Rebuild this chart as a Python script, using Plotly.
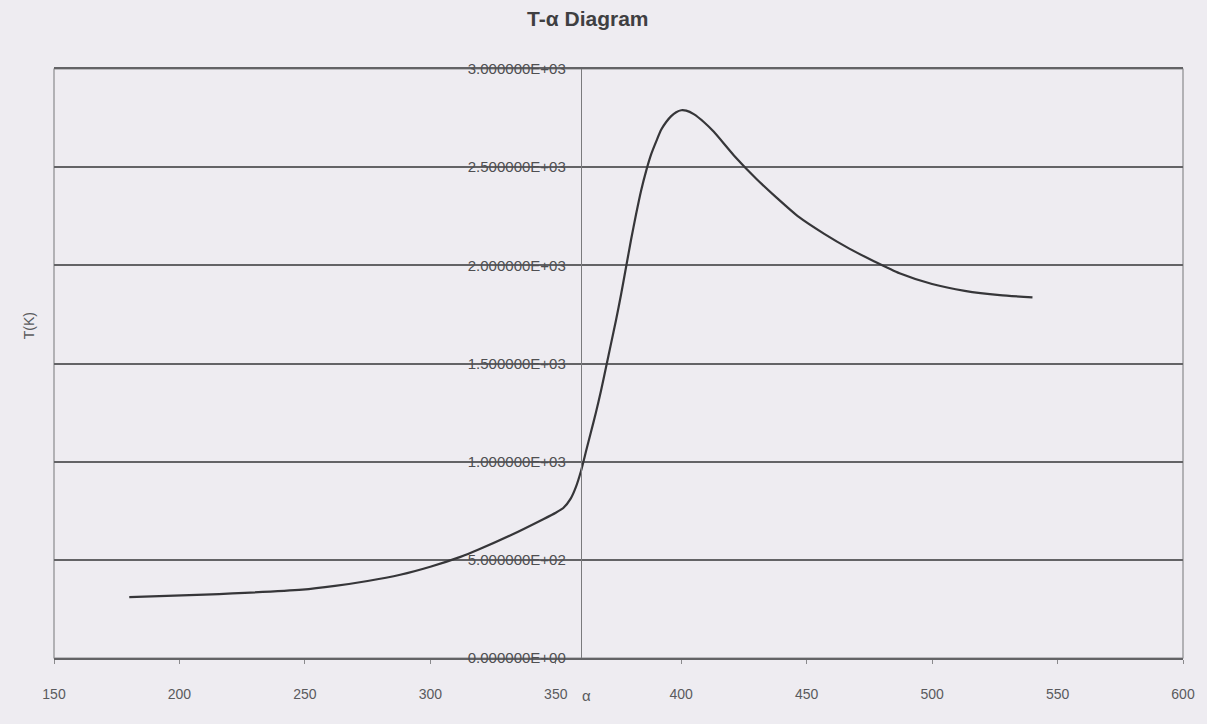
import plotly.graph_objects as go

# Angle of attack α and temperature T(K)
alpha = [180, 210, 249, 262, 275, 288, 300, 312, 319, 332, 345, 350, 353,
         356, 358, 360, 362, 364, 366, 368, 370, 372, 374, 376, 378, 380, 382,
         384, 386, 388, 390, 392, 394, 396, 398, 400, 402, 405, 409, 413, 421,
         430, 438, 447, 457, 467, 477, 487, 500, 513, 527, 540]
temp_k = [310, 323, 348, 367, 392, 424, 465, 515, 551, 625, 707, 740, 764,
          813, 870, 950, 1050, 1150, 1250, 1360, 1480, 1600, 1720, 1850, 1990, 2130, 2260,
          2380, 2480, 2565, 2630, 2690, 2730, 2760, 2780, 2790, 2788, 2770, 2730, 2680, 2560,
          2440, 2345, 2245, 2160, 2085, 2020, 1960, 1905, 1870, 1848, 1837]

x_ticks = [150, 200, 250, 300, 350, 400, 450, 500, 550, 600]
y_ticks = [0, 500, 1000, 1500, 2000, 2500, 3000]
y_ticktext = [f"{v:.6E}" for v in y_ticks]

X_RANGE = [150, 600]
Y_CROSS = 360  # where the value axis crosses the α axis

PAPER = "#eeecf1"
GRID = "#636366"
TEXT = "#4a4a4d"
FONT = "Liberation Sans, Arial, sans-serif"

fig = go.Figure()
fig.add_trace(go.Scatter(
    x=alpha, y=temp_k, mode="lines",
    line=dict(color="#363639", width=2.2, shape="spline", smoothing=0.6),
    showlegend=False, hoverinfo="x+y",
))

fig.update_layout(
    width=1207, height=724,
    margin=dict(l=54, r=16, t=69, b=66),
    paper_bgcolor=PAPER, plot_bgcolor=PAPER,
    font=dict(family=FONT, color=TEXT, size=14),
    title=dict(text="<b>T-α Diagram</b>", xref="container", x=0.487, xanchor="center",
               yref="container", y=0.974, yanchor="middle",
               font=dict(size=21, color="#3f3f42", family=FONT)),
    xaxis=dict(
        range=X_RANGE, tickvals=x_ticks, showgrid=False, zeroline=False,
        showline=True, mirror=True, linecolor=GRID, linewidth=1.6,
        ticks="outside", ticklen=4, tickcolor="#8a8a8d",
        ticklabelstandoff=18, tickfont=dict(size=14, color="#5a5a5d"),
    ),
    yaxis=dict(
        range=[0, 3000], tickvals=y_ticks, ticktext=y_ticktext,
        anchor="free", position=(Y_CROSS - X_RANGE[0]) / (X_RANGE[1] - X_RANGE[0]),
        side="left", showgrid=True, gridcolor=GRID, gridwidth=1.6, zeroline=False,
        showline=True, linecolor="#7a7a7d", linewidth=1.2,
        ticks="", ticklabelstandoff=12, tickfont=dict(size=15, color="#4f4f52"),
    ),
    shapes=[dict(type="rect", xref="paper", yref="paper", x0=0, x1=1, y0=0, y1=1,
                 line=dict(color="#8a8a8d", width=1.2), layer="below")],
    annotations=[
        dict(text="α", xref="paper", yref="paper", x=0.472, y=-0.082,
             showarrow=False, font=dict(size=15, color="#5a5a5d")),
        dict(text="T(K)", xref="paper", yref="paper", x=-0.0315, y=0.564,
             textangle=-90, showarrow=False, font=dict(size=14, color="#5a5a5d")),
    ],
)

fig.write_html("out.html")
